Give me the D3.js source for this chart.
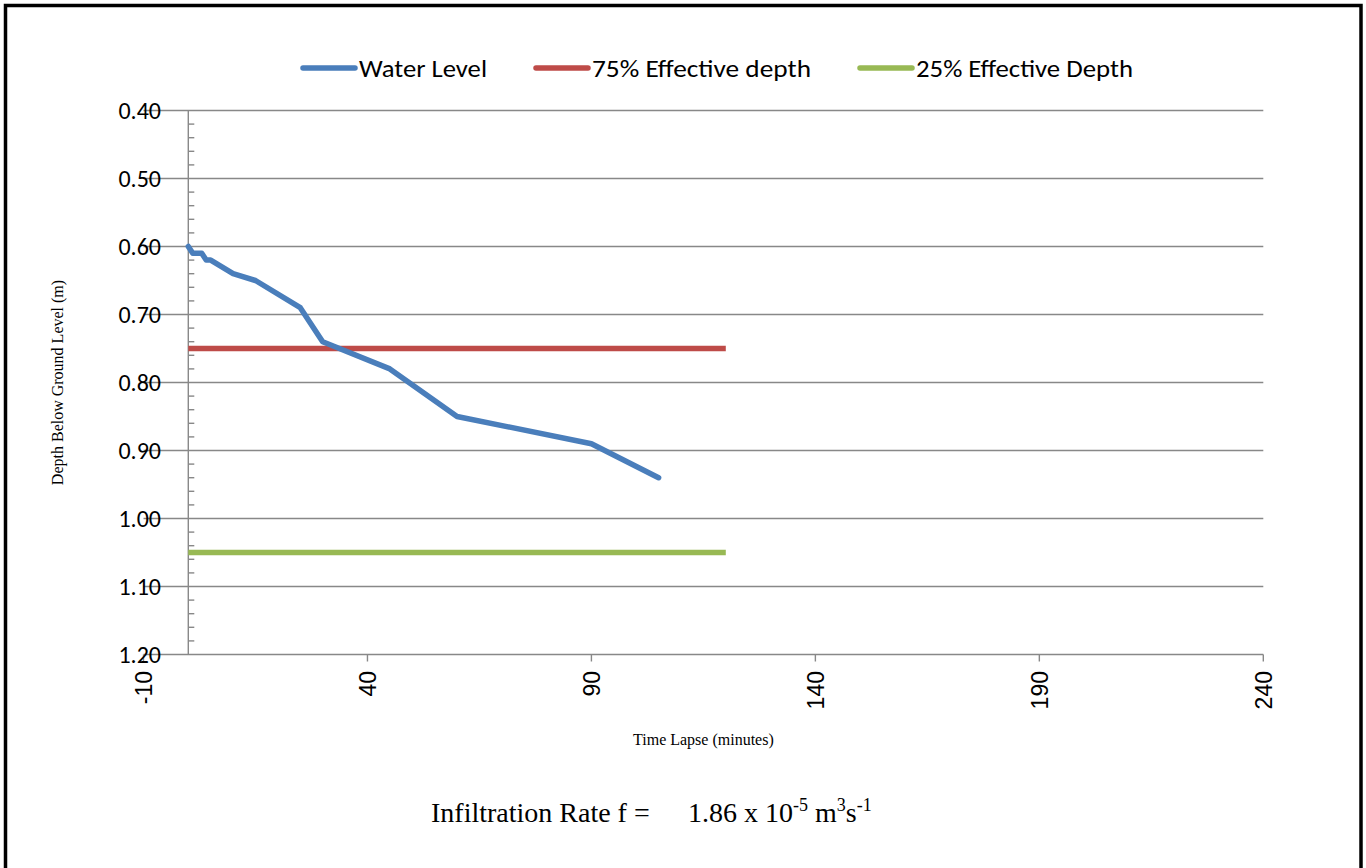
<!DOCTYPE html>
<html>
<head>
<meta charset="utf-8">
<script src="https://cdn.jsdelivr.net/npm/d3@7/dist/d3.min.js"></script>
<style>
  html, body { margin: 0; padding: 0; background: #fff; overflow: hidden; }
  svg { display: block; }
</style>
</head>
<body>
<svg id="chart" width="1366" height="868"></svg>
<script>
// data
const timeMinutes = [0, 1, 3, 4, 5, 10, 15, 25, 30, 45, 60, 90, 105];
const waterLevel = [0.60, 0.61, 0.61, 0.62, 0.62, 0.64, 0.65, 0.69, 0.74, 0.78, 0.85, 0.89, 0.94];
const effectiveSpan = [0, 120];
const depth75 = 0.75;
const depth25 = 1.05;
const xTicks = [-10, 40, 90, 140, 190, 240];
const yTicks = [0.4, 0.5, 0.6, 0.7, 0.8, 0.9, 1.0, 1.1, 1.2];
const seriesNames = ['Water Level', '75% Effective depth', '25% Effective Depth'];
const seriesColors = ['#4a7ebb', '#be4b48', '#98b954'];

const svg = d3.select('#chart');
const GRID = '#888888';
const SANS = 'Carlito, Lato, sans-serif';
const SERIF = '"Liberation Serif", "Times New Roman", serif';

const x = d3.scaleLinear().domain([-10, 240]).range([143.5, 1263.3]);
const y = d3.scaleLinear().domain([0.4, 1.2]).range([110.5, 654.5]);

// outer frame
svg.append('rect')
  .attr('x', 5.5).attr('y', 5.5)
  .attr('width', 1355.5).attr('height', 900)
  .attr('fill', 'none')
  .attr('stroke', '#000')
  .attr('stroke-width', 3.5);

// horizontal gridlines
svg.append('g')
  .selectAll('line')
  .data(yTicks)
  .join('line')
  .attr('x1', x(-10)).attr('x2', x(240))
  .attr('y1', (d) => y(d)).attr('y2', (d) => y(d))
  .attr('stroke', GRID)
  .attr('stroke-width', 1.4);

// vertical axis at x = 0 with minor ticks
svg.append('line')
  .attr('x1', x(0)).attr('x2', x(0))
  .attr('y1', y(0.4)).attr('y2', y(1.2))
  .attr('stroke', GRID)
  .attr('stroke-width', 1.4);

const minor = d3.range(0.42, 1.2, 0.02).filter((v) => Math.abs(v * 10 - Math.round(v * 10)) > 1e-6);
svg.append('g')
  .selectAll('line')
  .data(minor)
  .join('line')
  .attr('x1', x(0)).attr('x2', x(0) + 6)
  .attr('y1', (d) => y(d)).attr('y2', (d) => y(d))
  .attr('stroke', GRID)
  .attr('stroke-width', 1.4);

// x axis major ticks
svg.append('g')
  .selectAll('line')
  .data(xTicks)
  .join('line')
  .attr('x1', (d) => x(d)).attr('x2', (d) => x(d))
  .attr('y1', y(1.2)).attr('y2', y(1.2) + 7)
  .attr('stroke', GRID)
  .attr('stroke-width', 1.4);

// y tick labels
svg.append('g')
  .selectAll('text')
  .data(yTicks)
  .join('text')
  .attr('x', 161)
  .attr('y', (d) => y(d))
  .attr('dy', '0.36em')
  .attr('text-anchor', 'end')
  .attr('font-family', SANS)
  .attr('font-size', 24)
  .attr('fill', '#000')
  .text((d) => d3.format('.2f')(d));

// x tick labels, rotated
svg.append('g')
  .selectAll('text')
  .data(xTicks)
  .join('text')
  .attr('transform', (d) => `translate(${x(d)},671) rotate(-90)`)
  .attr('dy', '0.36em')
  .attr('text-anchor', 'end')
  .attr('font-family', '"Liberation Sans", Arial, sans-serif')
  .attr('font-size', 23)
  .attr('fill', '#000')
  .text((d) => d);

// axis titles
svg.append('text')
  .attr('x', (x(-10) + x(240)) / 2)
  .attr('y', 745)
  .attr('text-anchor', 'middle')
  .attr('font-family', SERIF)
  .attr('font-size', 16)
  .text('Time Lapse (minutes)');

svg.append('text')
  .attr('transform', `translate(63,${(y(0.4) + y(1.2)) / 2}) rotate(-90)`)
  .attr('text-anchor', 'middle')
  .attr('font-family', SERIF)
  .attr('font-size', 16)
  .text('Depth Below Ground Level (m)');

// series
const line = d3.line()
  .x((d) => x(d[0]))
  .y((d) => y(d[1]));

svg.append('path')
  .datum(effectiveSpan.map((t) => [t, depth75]))
  .attr('d', line)
  .attr('fill', 'none')
  .attr('stroke', seriesColors[1])
  .attr('stroke-width', 5.5);

svg.append('path')
  .datum(effectiveSpan.map((t) => [t, depth25]))
  .attr('d', line)
  .attr('fill', 'none')
  .attr('stroke', seriesColors[2])
  .attr('stroke-width', 5.5);

svg.append('path')
  .datum(timeMinutes.map((t, i) => [t, waterLevel[i]]))
  .attr('d', line)
  .attr('fill', 'none')
  .attr('stroke', seriesColors[0])
  .attr('stroke-width', 5.5)
  .attr('stroke-linejoin', 'round')
  .attr('stroke-linecap', 'round');

// legend
const legend = svg.append('g').attr('transform', 'translate(301,68)');
const legendTextWidth = [128, 219, 217];
let cursor = 0;
seriesNames.forEach((name, i) => {
  legend.append('line')
    .attr('x1', cursor + 2).attr('x2', cursor + 54)
    .attr('y1', 0).attr('y2', 0)
    .attr('stroke', seriesColors[i])
    .attr('stroke-width', 5.5)
    .attr('stroke-linecap', 'round');
  legend.append('text')
    .attr('x', cursor + 58)
    .attr('dy', '0.36em')
    .attr('font-family', SANS)
    .attr('font-size', 24)
    .attr('textLength', legendTextWidth[i])
    .attr('lengthAdjust', 'spacingAndGlyphs')
    .text(name);
  cursor += 58 + legendTextWidth[i] + 47;
});

// infiltration rate note
const note = svg.append('text')
  .attr('x', 431)
  .attr('y', 822)
  .attr('font-family', SERIF)
  .attr('font-size', 28)
  .attr('fill', '#000');
note.append('tspan').text('Infiltration Rate f =');
note.append('tspan').attr('x', 688).text('1.86 x 10');
note.append('tspan').attr('dy', -11).attr('font-size', 18).text('-5');
note.append('tspan').attr('dy', 11).text(' m');
note.append('tspan').attr('dy', -11).attr('font-size', 18).text('3');
note.append('tspan').attr('dy', 11).text('s');
note.append('tspan').attr('dy', -11).attr('font-size', 18).text('-1');
</script>
</body>
</html>
